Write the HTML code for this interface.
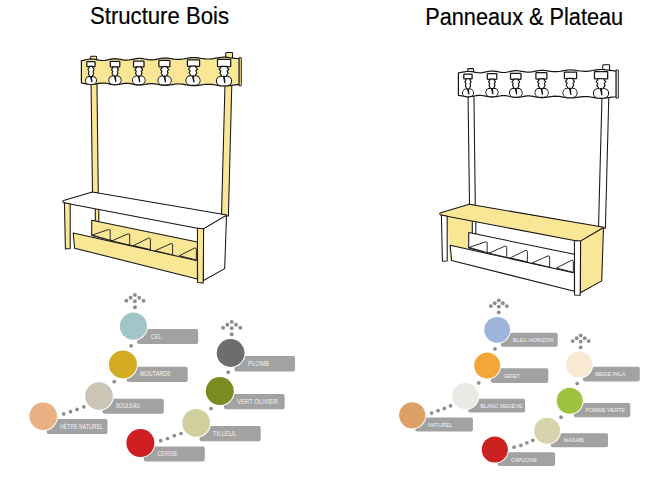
<!DOCTYPE html>
<html><head><meta charset="utf-8"><style>
html,body{margin:0;padding:0;background:#fff;width:663px;height:479px;overflow:hidden}
svg{display:block}
text{font-family:"Liberation Sans",sans-serif}
</style></head><body>
<svg width="663" height="479" viewBox="0 0 663 479">
<rect width="663" height="479" fill="#fff"/>
<text x="90" y="24.2" font-size="23.5" fill="#000" stroke="#000" stroke-width="0.2" textLength="139" lengthAdjust="spacingAndGlyphs">Structure Bois</text>
<text x="425.2" y="24.9" font-size="23.5" fill="#000" stroke="#000" stroke-width="0.2" textLength="198" lengthAdjust="spacingAndGlyphs">Panneaux &amp; Plateau</text>
<g transform="translate(0,0)" stroke="#151515" stroke-width="1.05" stroke-linejoin="round">
<path d="M203.5,228.6 L226.5,215 L224.7,268.6 L203.5,280.5 Z" fill="#ffffff"/>
<path d="M70,203 L93,194 L96,222 L92,236 L73,249 Z" fill="#ffffff" stroke="none"/>
<path d="M225.8,53.2 Q225.8,52.4 226.6,52.4 L231.8,52.4 Q232.6,52.4 232.6,53.2 L228.4,216 L221.5,216 Z" fill="#f9e796"/>
<path d="M90.7,57.1 Q90.7,56.3 91.5,56.3 L95.8,56.3 Q96.6,56.3 96.6,57.1 L98.3,193 L92.5,193 Z" fill="#f9e796"/>
<path d="M95.3,207 L98.8,207.5 L98.8,222 L95.3,221 Z" fill="#f9e796"/>
<path d="M81.4,60.6 L83.4,60.3 L85.3,59.9 L87.3,59.5 L89.3,59.2 L91.3,59.1 L93.2,59.2 L95.2,59.4 L97.2,59.8 L99.2,60.2 L101.1,60.4 L103.1,60.5 L105.1,60.4 L107.0,60.0 L109.0,59.6 L111.0,59.2 L113.0,58.9 L114.9,58.7 L116.9,58.8 L118.9,59.1 L120.8,59.4 L122.8,59.8 L124.8,60.1 L126.8,60.2 L128.7,60.0 L130.7,59.7 L132.7,59.3 L134.7,58.9 L136.6,58.6 L138.6,58.4 L140.6,58.4 L142.5,58.7 L144.5,59.0 L146.5,59.3 L148.5,59.6 L150.4,59.8 L152.4,59.8 L154.4,59.6 L156.4,59.3 L158.3,58.9 L160.3,58.5 L162.3,58.2 L164.2,58.0 L166.2,58.1 L168.2,58.2 L170.2,58.5 L172.1,58.8 L174.1,59.1 L176.1,59.3 L178.1,59.4 L180.0,59.4 L182.0,59.2 L184.0,58.9 L185.9,58.5 L187.9,58.2 L189.9,57.9 L191.9,57.7 L193.8,57.6 L195.8,57.7 L197.8,57.9 L199.8,58.2 L201.7,58.5 L203.7,58.7 L205.7,58.9 L207.6,59.0 L209.6,59.0 L211.6,58.8 L213.6,58.6 L215.5,58.2 L217.5,57.9 L219.5,57.6 L221.4,57.4 L223.4,57.2 L225.4,57.2 L227.4,57.3 L229.3,57.6 L231.3,57.8 L233.3,58.1 L235.3,58.4 L237.2,58.5 L239.2,58.6 L239.2,84.6 L237.2,84.7 L235.3,84.8 L233.3,85.1 L231.3,85.4 L229.3,85.7 L227.4,85.9 L225.4,86.0 L223.4,86.0 L221.4,85.9 L219.5,85.7 L217.5,85.4 L215.5,85.0 L213.6,84.7 L211.6,84.4 L209.6,84.3 L207.6,84.3 L205.7,84.3 L203.7,84.5 L201.7,84.8 L199.8,85.1 L197.8,85.4 L195.8,85.6 L193.8,85.7 L191.9,85.6 L189.9,85.5 L187.9,85.2 L185.9,84.8 L184.0,84.4 L182.0,84.1 L180.0,84.0 L178.1,83.9 L176.1,84.0 L174.1,84.3 L172.1,84.6 L170.2,84.9 L168.2,85.2 L166.2,85.3 L164.2,85.3 L162.3,85.2 L160.3,84.9 L158.3,84.5 L156.4,84.1 L154.4,83.8 L152.4,83.6 L150.4,83.6 L148.5,83.8 L146.5,84.1 L144.5,84.5 L142.5,84.8 L140.6,85.0 L138.6,85.1 L136.6,84.9 L134.7,84.6 L132.7,84.2 L130.7,83.7 L128.7,83.4 L126.8,83.3 L124.8,83.4 L122.8,83.7 L120.8,84.1 L118.9,84.4 L116.9,84.7 L114.9,84.8 L113.0,84.6 L111.0,84.3 L109.0,83.9 L107.0,83.5 L105.1,83.2 L103.1,83.0 L101.1,83.1 L99.2,83.4 L97.2,83.7 L95.2,84.1 L93.2,84.4 L91.3,84.5 L89.3,84.4 L87.3,84.1 L85.3,83.7 L83.4,83.3 L81.4,83.0 Z" fill="#f9e796" stroke-width="1.2"/>
<path d="M239.2,57.6 L241.3,57.8 L241.3,85.7 L239.2,85.9 Z" fill="#f9e796" stroke-width="0.9"/>
<rect x="86.80" y="61.70" width="8.30" height="4.90" rx="0.5" fill="#fff" stroke-width="1.25"/>
<polygon points="88.94,66.40 89.10,67.52 87.92,69.54 89.02,71.44 88.39,73.34 89.42,75.92 89.18,77.60 92.82,77.60 92.58,75.92 93.61,73.34 92.98,71.44 94.08,69.54 92.90,67.52 93.06,66.40" fill="#fff" stroke-width="1.15" stroke-linejoin="round"/>
<circle cx="89.43" cy="80.47" r="3.83" fill="#fff" stroke-width="1.1"/>
<circle cx="92.57" cy="80.47" r="3.83" fill="#fff" stroke-width="1.1"/>
<circle cx="89.43" cy="80.47" r="3.23" fill="#fff" stroke="none"/>
<circle cx="92.57" cy="80.47" r="3.23" fill="#fff" stroke="none"/>
<rect x="89.43" y="80.97" width="3.14" height="2.93" fill="#fff" stroke="none"/>
<polygon points="89.80,76.20 91.90,76.20 92.50,82.09 91.30,82.25" fill="#151515" stroke="none"/>
<rect x="110.30" y="61.30" width="9.50" height="5.70" rx="0.5" fill="#fff" stroke-width="1.25"/>
<polygon points="112.65,66.80 112.83,67.82 111.47,69.66 112.74,71.39 112.01,73.12 113.19,75.47 112.92,77.00 117.08,77.00 116.81,75.47 117.99,73.12 117.26,71.39 118.53,69.66 117.17,67.82 117.35,66.80" fill="#fff" stroke-width="1.15" stroke-linejoin="round"/>
<circle cx="112.97" cy="80.13" r="4.07" fill="#fff" stroke-width="1.1"/>
<circle cx="117.03" cy="80.13" r="4.07" fill="#fff" stroke-width="1.1"/>
<circle cx="112.97" cy="80.13" r="3.47" fill="#fff" stroke="none"/>
<circle cx="117.03" cy="80.13" r="3.47" fill="#fff" stroke="none"/>
<rect x="112.97" y="80.63" width="4.05" height="3.17" fill="#fff" stroke="none"/>
<polygon points="113.80,75.60 115.90,75.60 116.50,81.85 115.30,82.02" fill="#151515" stroke="none"/>
<rect x="133.50" y="61.00" width="10.50" height="6.00" rx="0.5" fill="#fff" stroke-width="1.25"/>
<polygon points="136.20,66.80 136.40,67.82 134.90,69.66 136.30,71.39 135.50,73.12 136.80,75.47 136.50,77.00 141.10,77.00 140.80,75.47 142.10,73.12 141.30,71.39 142.70,69.66 141.20,67.82 141.40,66.80" fill="#fff" stroke-width="1.15" stroke-linejoin="round"/>
<circle cx="136.77" cy="80.33" r="4.27" fill="#fff" stroke-width="1.1"/>
<circle cx="140.83" cy="80.33" r="4.27" fill="#fff" stroke-width="1.1"/>
<circle cx="136.77" cy="80.33" r="3.67" fill="#fff" stroke="none"/>
<circle cx="140.83" cy="80.33" r="3.67" fill="#fff" stroke="none"/>
<rect x="136.77" y="80.83" width="4.06" height="3.37" fill="#fff" stroke="none"/>
<polygon points="137.60,75.60 139.70,75.60 140.30,82.14 139.10,82.31" fill="#151515" stroke="none"/>
<rect x="158.90" y="60.40" width="11.00" height="6.40" rx="0.5" fill="#fff" stroke-width="1.25"/>
<polygon points="161.88,66.60 162.09,67.64 160.51,69.51 161.98,71.28 161.14,73.05 162.50,75.44 162.19,77.00 167.01,77.00 166.70,75.44 168.06,73.05 167.22,71.28 168.69,69.51 167.11,67.64 167.32,66.60" fill="#fff" stroke-width="1.15" stroke-linejoin="round"/>
<circle cx="162.32" cy="80.38" r="4.32" fill="#fff" stroke-width="1.1"/>
<circle cx="166.88" cy="80.38" r="4.32" fill="#fff" stroke-width="1.1"/>
<circle cx="162.32" cy="80.38" r="3.72" fill="#fff" stroke="none"/>
<circle cx="166.88" cy="80.38" r="3.72" fill="#fff" stroke="none"/>
<rect x="162.32" y="80.88" width="4.57" height="3.42" fill="#fff" stroke="none"/>
<polygon points="163.40,75.60 165.50,75.60 166.10,82.21 164.90,82.39" fill="#151515" stroke="none"/>
<rect x="187.40" y="59.80" width="12.20" height="6.50" rx="0.5" fill="#fff" stroke-width="1.25"/>
<polygon points="189.98,66.10 190.21,67.17 188.47,69.10 190.10,70.91 189.17,72.73 190.68,75.19 190.33,76.80 195.67,76.80 195.32,75.19 196.83,72.73 195.90,70.91 197.53,69.10 195.79,67.17 196.02,66.10" fill="#fff" stroke-width="1.15" stroke-linejoin="round"/>
<circle cx="190.51" cy="80.44" r="4.56" fill="#fff" stroke-width="1.1"/>
<circle cx="195.49" cy="80.44" r="4.56" fill="#fff" stroke-width="1.1"/>
<circle cx="190.51" cy="80.44" r="3.96" fill="#fff" stroke="none"/>
<circle cx="195.49" cy="80.44" r="3.96" fill="#fff" stroke="none"/>
<rect x="190.51" y="80.94" width="4.98" height="3.66" fill="#fff" stroke="none"/>
<polygon points="191.80,75.40 193.90,75.40 194.50,82.37 193.30,82.56" fill="#151515" stroke="none"/>
<rect x="217.50" y="59.30" width="13.20" height="7.30" rx="0.5" fill="#fff" stroke-width="1.25"/>
<polygon points="220.73,66.40 220.98,67.48 219.10,69.42 220.86,71.26 219.85,73.10 221.49,75.58 221.11,77.20 226.89,77.20 226.51,75.58 228.15,73.10 227.14,71.26 228.90,69.42 227.02,67.48 227.27,66.40" fill="#fff" stroke-width="1.15" stroke-linejoin="round"/>
<circle cx="221.10" cy="81.00" r="4.70" fill="#fff" stroke-width="1.1"/>
<circle cx="226.90" cy="81.00" r="4.70" fill="#fff" stroke-width="1.1"/>
<circle cx="221.10" cy="81.00" r="4.10" fill="#fff" stroke="none"/>
<circle cx="226.90" cy="81.00" r="4.10" fill="#fff" stroke="none"/>
<rect x="221.10" y="81.50" width="5.79" height="3.80" fill="#fff" stroke="none"/>
<polygon points="222.80,75.80 224.90,75.80 225.50,82.98 224.30,83.18" fill="#151515" stroke="none"/>
<path d="M63.4,202.7 Q62,201.2 63.6,200.4 L92.3,192 L226.9,214.9 L203.8,228.6 L201.3,229 Z" fill="#ffffff"/>
<path d="M64.4,202.8 L70.2,204 L70.2,248.6 L65.4,249 Z" fill="#f9e796"/>
<path d="M197.4,228.2 L203.6,228.8 L203.2,283 L197.6,282.6 Z" fill="#f9e796"/>
<path d="M91.7,220.3 L197.4,242 L197.4,262 L91.7,235.6 Z" fill="#f9e796"/>
<path d="M92.2,235.1 L108.6,229.5 Q110.2,229.3 110.2,230.7 L110.2,240.3 Z" fill="#f9e796" stroke-width="0.9"/>
<path d="M111.8,240.9 L128.1,233.8 Q129.7,233.6 129.7,235.0 L129.7,245.1 Z" fill="#f9e796" stroke-width="0.9"/>
<path d="M133.4,245.6 L148.8,238.0 Q150.4,237.8 150.4,239.2 L150.4,249.6 Z" fill="#f9e796" stroke-width="0.9"/>
<path d="M155.0,250.7 L171.0,243.6 Q172.6,243.4 172.6,244.8 L172.6,255.0 Z" fill="#f9e796" stroke-width="0.9"/>
<path d="M179.4,255.7 L194.7,248.0 Q196.3,247.8 196.3,249.2 L196.3,260.0 Z" fill="#f9e796" stroke-width="0.9"/>
<path d="M73.2,232.9 L197.4,260.7 L197.4,279 L74.6,248.2 Z" fill="#f9e796"/>
</g>
<g transform="translate(377,12.3)" stroke="#151515" stroke-width="1.05" stroke-linejoin="round">
<path d="M203.5,228.6 L226.5,215 L224.7,268.6 L203.5,280.5 Z" fill="#f9e796"/>
<path d="M70,203 L93,194 L96,222 L92,236 L73,249 Z" fill="#f9e796" stroke="none"/>
<path d="M225.8,53.2 Q225.8,52.4 226.6,52.4 L231.8,52.4 Q232.6,52.4 232.6,53.2 L228.4,216 L221.5,216 Z" fill="#ffffff"/>
<path d="M90.7,57.1 Q90.7,56.3 91.5,56.3 L95.8,56.3 Q96.6,56.3 96.6,57.1 L98.3,193 L92.5,193 Z" fill="#ffffff"/>
<path d="M95.3,207 L98.8,207.5 L98.8,222 L95.3,221 Z" fill="#ffffff"/>
<path d="M81.4,60.6 L83.4,60.3 L85.3,59.9 L87.3,59.5 L89.3,59.2 L91.3,59.1 L93.2,59.2 L95.2,59.4 L97.2,59.8 L99.2,60.2 L101.1,60.4 L103.1,60.5 L105.1,60.4 L107.0,60.0 L109.0,59.6 L111.0,59.2 L113.0,58.9 L114.9,58.7 L116.9,58.8 L118.9,59.1 L120.8,59.4 L122.8,59.8 L124.8,60.1 L126.8,60.2 L128.7,60.0 L130.7,59.7 L132.7,59.3 L134.7,58.9 L136.6,58.6 L138.6,58.4 L140.6,58.4 L142.5,58.7 L144.5,59.0 L146.5,59.3 L148.5,59.6 L150.4,59.8 L152.4,59.8 L154.4,59.6 L156.4,59.3 L158.3,58.9 L160.3,58.5 L162.3,58.2 L164.2,58.0 L166.2,58.1 L168.2,58.2 L170.2,58.5 L172.1,58.8 L174.1,59.1 L176.1,59.3 L178.1,59.4 L180.0,59.4 L182.0,59.2 L184.0,58.9 L185.9,58.5 L187.9,58.2 L189.9,57.9 L191.9,57.7 L193.8,57.6 L195.8,57.7 L197.8,57.9 L199.8,58.2 L201.7,58.5 L203.7,58.7 L205.7,58.9 L207.6,59.0 L209.6,59.0 L211.6,58.8 L213.6,58.6 L215.5,58.2 L217.5,57.9 L219.5,57.6 L221.4,57.4 L223.4,57.2 L225.4,57.2 L227.4,57.3 L229.3,57.6 L231.3,57.8 L233.3,58.1 L235.3,58.4 L237.2,58.5 L239.2,58.6 L239.2,84.6 L237.2,84.7 L235.3,84.8 L233.3,85.1 L231.3,85.4 L229.3,85.7 L227.4,85.9 L225.4,86.0 L223.4,86.0 L221.4,85.9 L219.5,85.7 L217.5,85.4 L215.5,85.0 L213.6,84.7 L211.6,84.4 L209.6,84.3 L207.6,84.3 L205.7,84.3 L203.7,84.5 L201.7,84.8 L199.8,85.1 L197.8,85.4 L195.8,85.6 L193.8,85.7 L191.9,85.6 L189.9,85.5 L187.9,85.2 L185.9,84.8 L184.0,84.4 L182.0,84.1 L180.0,84.0 L178.1,83.9 L176.1,84.0 L174.1,84.3 L172.1,84.6 L170.2,84.9 L168.2,85.2 L166.2,85.3 L164.2,85.3 L162.3,85.2 L160.3,84.9 L158.3,84.5 L156.4,84.1 L154.4,83.8 L152.4,83.6 L150.4,83.6 L148.5,83.8 L146.5,84.1 L144.5,84.5 L142.5,84.8 L140.6,85.0 L138.6,85.1 L136.6,84.9 L134.7,84.6 L132.7,84.2 L130.7,83.7 L128.7,83.4 L126.8,83.3 L124.8,83.4 L122.8,83.7 L120.8,84.1 L118.9,84.4 L116.9,84.7 L114.9,84.8 L113.0,84.6 L111.0,84.3 L109.0,83.9 L107.0,83.5 L105.1,83.2 L103.1,83.0 L101.1,83.1 L99.2,83.4 L97.2,83.7 L95.2,84.1 L93.2,84.4 L91.3,84.5 L89.3,84.4 L87.3,84.1 L85.3,83.7 L83.4,83.3 L81.4,83.0 Z" fill="#ffffff" stroke-width="1.2"/>
<path d="M239.2,57.6 L241.3,57.8 L241.3,85.7 L239.2,85.9 Z" fill="#ffffff" stroke-width="0.9"/>
<rect x="86.80" y="61.70" width="8.30" height="4.90" rx="0.5" fill="#fff" stroke-width="1.25"/>
<polygon points="88.94,66.40 89.10,67.52 87.92,69.54 89.02,71.44 88.39,73.34 89.42,75.92 89.18,77.60 92.82,77.60 92.58,75.92 93.61,73.34 92.98,71.44 94.08,69.54 92.90,67.52 93.06,66.40" fill="#fff" stroke-width="1.15" stroke-linejoin="round"/>
<circle cx="89.43" cy="80.47" r="3.83" fill="#fff" stroke-width="1.1"/>
<circle cx="92.57" cy="80.47" r="3.83" fill="#fff" stroke-width="1.1"/>
<circle cx="89.43" cy="80.47" r="3.23" fill="#fff" stroke="none"/>
<circle cx="92.57" cy="80.47" r="3.23" fill="#fff" stroke="none"/>
<rect x="89.43" y="80.97" width="3.14" height="2.93" fill="#fff" stroke="none"/>
<polygon points="89.80,76.20 91.90,76.20 92.50,82.09 91.30,82.25" fill="#151515" stroke="none"/>
<rect x="110.30" y="61.30" width="9.50" height="5.70" rx="0.5" fill="#fff" stroke-width="1.25"/>
<polygon points="112.65,66.80 112.83,67.82 111.47,69.66 112.74,71.39 112.01,73.12 113.19,75.47 112.92,77.00 117.08,77.00 116.81,75.47 117.99,73.12 117.26,71.39 118.53,69.66 117.17,67.82 117.35,66.80" fill="#fff" stroke-width="1.15" stroke-linejoin="round"/>
<circle cx="112.97" cy="80.13" r="4.07" fill="#fff" stroke-width="1.1"/>
<circle cx="117.03" cy="80.13" r="4.07" fill="#fff" stroke-width="1.1"/>
<circle cx="112.97" cy="80.13" r="3.47" fill="#fff" stroke="none"/>
<circle cx="117.03" cy="80.13" r="3.47" fill="#fff" stroke="none"/>
<rect x="112.97" y="80.63" width="4.05" height="3.17" fill="#fff" stroke="none"/>
<polygon points="113.80,75.60 115.90,75.60 116.50,81.85 115.30,82.02" fill="#151515" stroke="none"/>
<rect x="133.50" y="61.00" width="10.50" height="6.00" rx="0.5" fill="#fff" stroke-width="1.25"/>
<polygon points="136.20,66.80 136.40,67.82 134.90,69.66 136.30,71.39 135.50,73.12 136.80,75.47 136.50,77.00 141.10,77.00 140.80,75.47 142.10,73.12 141.30,71.39 142.70,69.66 141.20,67.82 141.40,66.80" fill="#fff" stroke-width="1.15" stroke-linejoin="round"/>
<circle cx="136.77" cy="80.33" r="4.27" fill="#fff" stroke-width="1.1"/>
<circle cx="140.83" cy="80.33" r="4.27" fill="#fff" stroke-width="1.1"/>
<circle cx="136.77" cy="80.33" r="3.67" fill="#fff" stroke="none"/>
<circle cx="140.83" cy="80.33" r="3.67" fill="#fff" stroke="none"/>
<rect x="136.77" y="80.83" width="4.06" height="3.37" fill="#fff" stroke="none"/>
<polygon points="137.60,75.60 139.70,75.60 140.30,82.14 139.10,82.31" fill="#151515" stroke="none"/>
<rect x="158.90" y="60.40" width="11.00" height="6.40" rx="0.5" fill="#fff" stroke-width="1.25"/>
<polygon points="161.88,66.60 162.09,67.64 160.51,69.51 161.98,71.28 161.14,73.05 162.50,75.44 162.19,77.00 167.01,77.00 166.70,75.44 168.06,73.05 167.22,71.28 168.69,69.51 167.11,67.64 167.32,66.60" fill="#fff" stroke-width="1.15" stroke-linejoin="round"/>
<circle cx="162.32" cy="80.38" r="4.32" fill="#fff" stroke-width="1.1"/>
<circle cx="166.88" cy="80.38" r="4.32" fill="#fff" stroke-width="1.1"/>
<circle cx="162.32" cy="80.38" r="3.72" fill="#fff" stroke="none"/>
<circle cx="166.88" cy="80.38" r="3.72" fill="#fff" stroke="none"/>
<rect x="162.32" y="80.88" width="4.57" height="3.42" fill="#fff" stroke="none"/>
<polygon points="163.40,75.60 165.50,75.60 166.10,82.21 164.90,82.39" fill="#151515" stroke="none"/>
<rect x="187.40" y="59.80" width="12.20" height="6.50" rx="0.5" fill="#fff" stroke-width="1.25"/>
<polygon points="189.98,66.10 190.21,67.17 188.47,69.10 190.10,70.91 189.17,72.73 190.68,75.19 190.33,76.80 195.67,76.80 195.32,75.19 196.83,72.73 195.90,70.91 197.53,69.10 195.79,67.17 196.02,66.10" fill="#fff" stroke-width="1.15" stroke-linejoin="round"/>
<circle cx="190.51" cy="80.44" r="4.56" fill="#fff" stroke-width="1.1"/>
<circle cx="195.49" cy="80.44" r="4.56" fill="#fff" stroke-width="1.1"/>
<circle cx="190.51" cy="80.44" r="3.96" fill="#fff" stroke="none"/>
<circle cx="195.49" cy="80.44" r="3.96" fill="#fff" stroke="none"/>
<rect x="190.51" y="80.94" width="4.98" height="3.66" fill="#fff" stroke="none"/>
<polygon points="191.80,75.40 193.90,75.40 194.50,82.37 193.30,82.56" fill="#151515" stroke="none"/>
<rect x="217.50" y="59.30" width="13.20" height="7.30" rx="0.5" fill="#fff" stroke-width="1.25"/>
<polygon points="220.73,66.40 220.98,67.48 219.10,69.42 220.86,71.26 219.85,73.10 221.49,75.58 221.11,77.20 226.89,77.20 226.51,75.58 228.15,73.10 227.14,71.26 228.90,69.42 227.02,67.48 227.27,66.40" fill="#fff" stroke-width="1.15" stroke-linejoin="round"/>
<circle cx="221.10" cy="81.00" r="4.70" fill="#fff" stroke-width="1.1"/>
<circle cx="226.90" cy="81.00" r="4.70" fill="#fff" stroke-width="1.1"/>
<circle cx="221.10" cy="81.00" r="4.10" fill="#fff" stroke="none"/>
<circle cx="226.90" cy="81.00" r="4.10" fill="#fff" stroke="none"/>
<rect x="221.10" y="81.50" width="5.79" height="3.80" fill="#fff" stroke="none"/>
<polygon points="222.80,75.80 224.90,75.80 225.50,82.98 224.30,83.18" fill="#151515" stroke="none"/>
<path d="M63.4,202.7 Q62,201.2 63.6,200.4 L92.3,192 L226.9,214.9 L203.8,228.6 L201.3,229 Z" fill="#f9e796"/>
<path d="M64.4,202.8 L70.2,204 L70.2,248.6 L65.4,249 Z" fill="#ffffff"/>
<path d="M197.4,228.2 L203.6,228.8 L203.2,283 L197.6,282.6 Z" fill="#ffffff"/>
<path d="M91.7,220.3 L197.4,242 L197.4,262 L91.7,235.6 Z" fill="#ffffff"/>
<path d="M92.2,235.1 L108.6,229.5 Q110.2,229.3 110.2,230.7 L110.2,240.3 Z" fill="#ffffff" stroke-width="0.9"/>
<path d="M111.8,240.9 L128.1,233.8 Q129.7,233.6 129.7,235.0 L129.7,245.1 Z" fill="#ffffff" stroke-width="0.9"/>
<path d="M133.4,245.6 L148.8,238.0 Q150.4,237.8 150.4,239.2 L150.4,249.6 Z" fill="#ffffff" stroke-width="0.9"/>
<path d="M155.0,250.7 L171.0,243.6 Q172.6,243.4 172.6,244.8 L172.6,255.0 Z" fill="#ffffff" stroke-width="0.9"/>
<path d="M179.4,255.7 L194.7,248.0 Q196.3,247.8 196.3,249.2 L196.3,260.0 Z" fill="#ffffff" stroke-width="0.9"/>
<path d="M73.2,232.9 L197.4,260.7 L197.4,279 L74.6,248.2 Z" fill="#ffffff"/>
</g>
<circle cx="134.9" cy="294.9" r="1.95" fill="#8e8e8e"/>
<circle cx="130.6" cy="297.8" r="1.95" fill="#8e8e8e"/>
<circle cx="139.20000000000002" cy="297.8" r="1.95" fill="#8e8e8e"/>
<circle cx="126.30000000000001" cy="300.8" r="1.95" fill="#8e8e8e"/>
<circle cx="134.9" cy="301.3" r="1.95" fill="#8e8e8e"/>
<circle cx="143.5" cy="300.8" r="1.95" fill="#8e8e8e"/>
<circle cx="134.9" cy="307.255" r="1.95" fill="#8e8e8e"/>
<circle cx="131.1" cy="345.8" r="1.85" fill="#8e8e8e"/>
<circle cx="114.2" cy="381.7" r="1.85" fill="#8e8e8e"/>
<circle cx="63.7" cy="413.9" r="1.85" fill="#8e8e8e"/>
<circle cx="70.5" cy="411.7" r="1.85" fill="#8e8e8e"/>
<circle cx="77" cy="409.4" r="1.85" fill="#8e8e8e"/>
<circle cx="83.8" cy="406.8" r="1.85" fill="#8e8e8e"/>
<rect x="137.1" y="328.9" width="61.1" height="15.1" rx="1.8" fill="#a2a2a2"/>
<circle cx="133.4" cy="326.2" r="14.6" fill="#fff"/>
<circle cx="133.4" cy="326.2" r="13.6" fill="#a2c5c7"/>
<text x="150.7" y="339" textLength="10.6" lengthAdjust="spacingAndGlyphs" font-size="6.6" fill="#f4f4f4">CIEL</text>
<rect x="126.7" y="366.7" width="61.0" height="15.3" rx="1.8" fill="#a2a2a2"/>
<circle cx="122.9" cy="364.4" r="15" fill="#fff"/>
<circle cx="122.9" cy="364.4" r="14" fill="#d4ac24"/>
<text x="140" y="376.4" textLength="31" lengthAdjust="spacingAndGlyphs" font-size="6.6" fill="#f4f4f4">MOUTARDE</text>
<rect x="102.5" y="398.8" width="61.3" height="15.0" rx="1.8" fill="#a2a2a2"/>
<circle cx="99" cy="396.1" r="14.8" fill="#fff"/>
<circle cx="99" cy="396.1" r="13.8" fill="#cbc5b4"/>
<text x="115.9" y="408.1" textLength="24" lengthAdjust="spacingAndGlyphs" font-size="6.6" fill="#f4f4f4">BOULEAU</text>
<rect x="46.8" y="418.9" width="60.7" height="15.1" rx="1.8" fill="#a2a2a2"/>
<circle cx="43.2" cy="416.2" r="14.8" fill="#fff"/>
<circle cx="43.2" cy="416.2" r="13.8" fill="#e8b184"/>
<text x="60" y="429" textLength="43" lengthAdjust="spacingAndGlyphs" font-size="6.6" fill="#f4f4f4">HÊTRE NATUREL</text>
<circle cx="231.7" cy="321.9" r="1.95" fill="#8e8e8e"/>
<circle cx="227.39999999999998" cy="324.8" r="1.95" fill="#8e8e8e"/>
<circle cx="236.0" cy="324.8" r="1.95" fill="#8e8e8e"/>
<circle cx="223.1" cy="327.8" r="1.95" fill="#8e8e8e"/>
<circle cx="231.7" cy="328.3" r="1.95" fill="#8e8e8e"/>
<circle cx="240.29999999999998" cy="327.8" r="1.95" fill="#8e8e8e"/>
<circle cx="231.7" cy="334.255" r="1.95" fill="#8e8e8e"/>
<circle cx="228.2" cy="372.2" r="1.85" fill="#8e8e8e"/>
<circle cx="211" cy="408.6" r="1.85" fill="#8e8e8e"/>
<circle cx="160.7" cy="440.7" r="1.85" fill="#8e8e8e"/>
<circle cx="167.5" cy="438.5" r="1.85" fill="#8e8e8e"/>
<circle cx="174.3" cy="435.7" r="1.85" fill="#8e8e8e"/>
<circle cx="181.1" cy="433.5" r="1.85" fill="#8e8e8e"/>
<rect x="234.4" y="355.9" width="60.6" height="15.7" rx="1.8" fill="#a2a2a2"/>
<circle cx="230.6" cy="353" r="14.9" fill="#fff"/>
<circle cx="230.6" cy="353" r="13.9" fill="#6e6d6b"/>
<text x="248" y="366" textLength="21" lengthAdjust="spacingAndGlyphs" font-size="6.6" fill="#f4f4f4">PLOMB</text>
<rect x="224" y="393.9" width="60.6" height="15.3" rx="1.8" fill="#a2a2a2"/>
<circle cx="219.8" cy="391.1" r="15" fill="#fff"/>
<circle cx="219.8" cy="391.1" r="14" fill="#7b8b22"/>
<text x="237.2" y="404" textLength="40.5" lengthAdjust="spacingAndGlyphs" font-size="6.6" fill="#f4f4f4">VERT OLIVIER</text>
<rect x="199.6" y="426" width="61.1" height="15.2" rx="1.8" fill="#a2a2a2"/>
<circle cx="196.1" cy="422.9" r="14.9" fill="#fff"/>
<circle cx="196.1" cy="422.9" r="13.9" fill="#d2cf9e"/>
<text x="212.8" y="436.2" textLength="23.7" lengthAdjust="spacingAndGlyphs" font-size="6.6" fill="#f4f4f4">TILLEUL</text>
<rect x="143.8" y="446.4" width="61.0" height="15.1" rx="1.8" fill="#a2a2a2"/>
<circle cx="140.4" cy="443" r="15" fill="#fff"/>
<circle cx="140.4" cy="443" r="14" fill="#d01e22"/>
<text x="157.3" y="456" textLength="20.4" lengthAdjust="spacingAndGlyphs" font-size="6.6" fill="#f4f4f4">CERISE</text>
<circle cx="498.8" cy="300.4" r="1.95" fill="#8e8e8e"/>
<circle cx="494.8" cy="303.2" r="1.95" fill="#8e8e8e"/>
<circle cx="502.8" cy="303.2" r="1.95" fill="#8e8e8e"/>
<circle cx="490.8" cy="306.1" r="1.95" fill="#8e8e8e"/>
<circle cx="498.8" cy="306.6" r="1.95" fill="#8e8e8e"/>
<circle cx="506.8" cy="306.1" r="1.95" fill="#8e8e8e"/>
<circle cx="498.8" cy="312.34999999999997" r="1.95" fill="#8e8e8e"/>
<circle cx="495" cy="348.9" r="1.85" fill="#8e8e8e"/>
<circle cx="478.8" cy="382.9" r="1.85" fill="#8e8e8e"/>
<circle cx="431.6" cy="413.1" r="1.85" fill="#8e8e8e"/>
<circle cx="438" cy="410.7" r="1.85" fill="#8e8e8e"/>
<circle cx="444.3" cy="408.4" r="1.85" fill="#8e8e8e"/>
<circle cx="450.6" cy="405.8" r="1.85" fill="#8e8e8e"/>
<rect x="500.9" y="332.8" width="56.8" height="14.0" rx="1.8" fill="#a2a2a2"/>
<circle cx="497.2" cy="329.8" r="13.9" fill="#fff"/>
<circle cx="497.2" cy="329.8" r="12.9" fill="#9fb4db"/>
<text x="512.8" y="342.2" textLength="40.7" lengthAdjust="spacingAndGlyphs" font-size="5.8" fill="#f4f4f4">BLEU HORIZON</text>
<rect x="490.9" y="368.3" width="57.4" height="14.6" rx="1.8" fill="#a2a2a2"/>
<circle cx="487.2" cy="365.6" r="14" fill="#fff"/>
<circle cx="487.2" cy="365.6" r="13" fill="#f4a63a"/>
<text x="503.4" y="377.7" textLength="16.6" lengthAdjust="spacingAndGlyphs" font-size="5.8" fill="#f4f4f4">GENET</text>
<rect x="468.2" y="398.8" width="56.9" height="13.8" rx="1.8" fill="#a2a2a2"/>
<circle cx="465.3" cy="396" r="14.1" fill="#fff"/>
<circle cx="465.3" cy="396" r="13.1" fill="#e9e9e6"/>
<text x="480.5" y="408" textLength="42" lengthAdjust="spacingAndGlyphs" font-size="5.8" fill="#f4f4f4">BLANC MEGEVE</text>
<rect x="415.3" y="417.4" width="57.6" height="14.1" rx="1.8" fill="#a2a2a2"/>
<circle cx="412.2" cy="415.3" r="14.1" fill="#fff"/>
<circle cx="412.2" cy="415.3" r="13.1" fill="#dc9f66"/>
<text x="428" y="426.5" textLength="24.4" lengthAdjust="spacingAndGlyphs" font-size="5.8" fill="#f4f4f4">NATUREL</text>
<circle cx="580.7" cy="335.4" r="1.95" fill="#8e8e8e"/>
<circle cx="576.7" cy="338.2" r="1.95" fill="#8e8e8e"/>
<circle cx="584.7" cy="338.2" r="1.95" fill="#8e8e8e"/>
<circle cx="572.7" cy="341.1" r="1.95" fill="#8e8e8e"/>
<circle cx="580.7" cy="341.6" r="1.95" fill="#8e8e8e"/>
<circle cx="588.7" cy="341.1" r="1.95" fill="#8e8e8e"/>
<circle cx="580.7" cy="347.34999999999997" r="1.95" fill="#8e8e8e"/>
<circle cx="577.2" cy="383.5" r="1.85" fill="#8e8e8e"/>
<circle cx="561" cy="417.2" r="1.85" fill="#8e8e8e"/>
<circle cx="514.1" cy="447.2" r="1.85" fill="#8e8e8e"/>
<circle cx="520.8" cy="445.4" r="1.85" fill="#8e8e8e"/>
<circle cx="526.9" cy="442.8" r="1.85" fill="#8e8e8e"/>
<circle cx="532.8" cy="440.3" r="1.85" fill="#8e8e8e"/>
<rect x="582.8" y="366.8" width="57.0" height="14.6" rx="1.8" fill="#a2a2a2"/>
<circle cx="579.2" cy="364.5" r="14.1" fill="#fff"/>
<circle cx="579.2" cy="364.5" r="13.1" fill="#f9e9d2"/>
<text x="595.3" y="376.4" textLength="30" lengthAdjust="spacingAndGlyphs" font-size="5.8" fill="#f4f4f4">BEIGE PALA</text>
<rect x="573.8" y="403" width="56.5" height="14.2" rx="1.8" fill="#a2a2a2"/>
<circle cx="569.7" cy="400.8" r="14" fill="#fff"/>
<circle cx="569.7" cy="400.8" r="13" fill="#9dc43f"/>
<text x="585.4" y="412" textLength="39.7" lengthAdjust="spacingAndGlyphs" font-size="5.8" fill="#f4f4f4">POMME VERTE</text>
<rect x="550.8" y="433.3" width="57.2" height="13.9" rx="1.8" fill="#a2a2a2"/>
<circle cx="547.2" cy="430.8" r="14" fill="#fff"/>
<circle cx="547.2" cy="430.8" r="13" fill="#d8d3ac"/>
<text x="563.6" y="442" textLength="20.5" lengthAdjust="spacingAndGlyphs" font-size="5.8" fill="#f4f4f4">WASABI</text>
<rect x="497.7" y="452.3" width="57.4" height="13.6" rx="1.8" fill="#a2a2a2"/>
<circle cx="494.8" cy="449.5" r="14.1" fill="#fff"/>
<circle cx="494.8" cy="449.5" r="13.1" fill="#cc2121"/>
<text x="511" y="461.5" textLength="26" lengthAdjust="spacingAndGlyphs" font-size="5.8" fill="#f4f4f4">CAPUCINE</text>
</svg>
</body></html>
